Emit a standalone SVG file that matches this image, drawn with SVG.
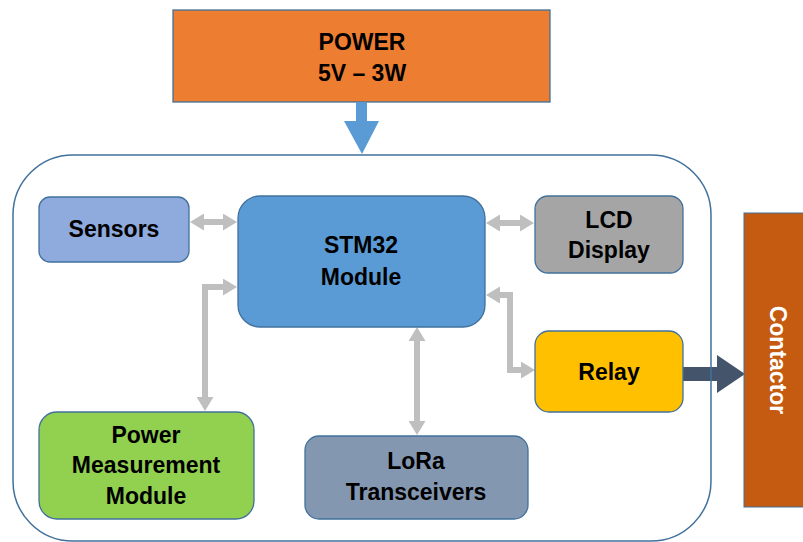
<svg xmlns="http://www.w3.org/2000/svg" width="803" height="542" viewBox="0 0 803 542">
<style>
.node{stroke:#41719C;stroke-width:1.3}
.lbl{font-family:"Liberation Sans",Arial,sans-serif;font-weight:bold;font-size:23px;fill:#000;text-anchor:middle}
.conn{fill:none;stroke:#BFBFBF;stroke-width:6;stroke-linejoin:miter}
</style>
<defs>
<marker id="gh" viewBox="0 0 14 17" refX="0" refY="8.5" markerWidth="14" markerHeight="17" markerUnits="userSpaceOnUse" orient="auto-start-reverse">
<path d="M0,0 L14,8.5 L0,17 z" fill="#BFBFBF"/>
</marker>
</defs>
<rect width="803" height="542" fill="#fff"/>

<g id="power">
<rect class="node" x="173" y="10" width="377" height="92" fill="#ED7D31"/>
<text class="lbl" x="362" y="50">POWER</text>
<text class="lbl" x="362" y="81">5V – 3W</text>
</g>

<g id="connectors">
<polygon points="356,102 367,102 367,121 379,121 362,154 344,121 356,121" fill="#5B9BD5"/>
<path class="conn" d="M204,222 H223" marker-start="url(#gh)" marker-end="url(#gh)"/>
<path class="conn" d="M500,223 H520" marker-start="url(#gh)" marker-end="url(#gh)"/>
<path class="conn" d="M205,397 V287 H223" marker-start="url(#gh)" marker-end="url(#gh)"/>
<path class="conn" d="M500,295 H510 V370 H521" marker-start="url(#gh)" marker-end="url(#gh)"/>
<path class="conn" d="M417,341 V421" marker-start="url(#gh)" marker-end="url(#gh)"/>
<polygon points="683,367 717,367 717,355 745,374 717,393 717,381 683,381" fill="#44546A"/>
</g>

<g id="container">
<rect x="13" y="155" width="698" height="386" rx="60" ry="60" fill="none" stroke="#41719C" stroke-width="1.5"/>
</g>

<g id="sensors">
<rect class="node" x="39" y="197" width="150" height="65" rx="11" fill="#8FAADC"/>
<text class="lbl" x="114" y="237">Sensors</text>
</g>

<g id="stm32">
<rect class="node" x="238" y="196" width="247" height="131" rx="22" fill="#5B9BD5"/>
<text class="lbl" x="361" y="253">STM32</text>
<text class="lbl" x="361" y="285">Module</text>
</g>

<g id="lcd">
<rect class="node" x="535" y="196" width="148" height="77" rx="13" fill="#A5A5A5"/>
<text class="lbl" x="609" y="228">LCD</text>
<text class="lbl" x="609" y="258">Display</text>
</g>

<g id="relay">
<rect class="node" x="535" y="331" width="148" height="81" rx="14" fill="#FFC000"/>
<text class="lbl" x="609" y="380">Relay</text>
</g>

<g id="powermeas">
<rect class="node" x="39" y="412" width="215" height="107" rx="18" fill="#92D050"/>
<text class="lbl" x="146" y="443">Power</text>
<text class="lbl" x="146" y="473">Measurement</text>
<text class="lbl" x="146" y="504">Module</text>
</g>

<g id="lora">
<rect class="node" x="305" y="436" width="223" height="83" rx="14" fill="#8497B0"/>
<text class="lbl" x="416" y="469">LoRa</text>
<text class="lbl" x="416" y="500">Transceivers</text>
</g>

<g id="contactor">
<rect x="744" y="213" width="70" height="294" fill="#C55A11" stroke="#41719C" stroke-width="1"/>
<text class="lbl" transform="translate(770,360) rotate(90)" x="0" y="0" style="fill:#fff">Contactor</text>
</g>
</svg>
